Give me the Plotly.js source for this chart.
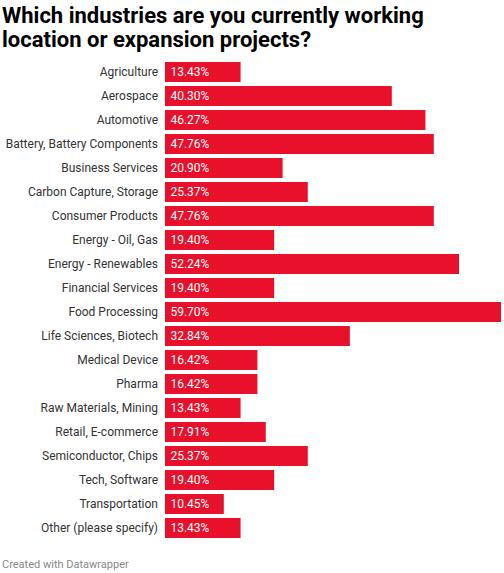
<!DOCTYPE html>
<html>
<head>
<meta charset="utf-8">
<script src="https://cdn.plot.ly/plotly-3.0.1.min.js"></script>
<style>
  html, body { margin: 0; padding: 0; background: #fff; }
  #chart { width: 504px; height: 573px; }
</style>
</head>
<body>
<div id="chart"></div>
<script>
const industries = [
  'Agriculture', 'Aerospace', 'Automotive', 'Battery, Battery Components',
  'Business Services', 'Carbon Capture, Storage', 'Consumer Products',
  'Energy - Oil, Gas', 'Energy - Renewables', 'Financial Services',
  'Food Processing', 'Life Sciences, Biotech', 'Medical Device', 'Pharma',
  'Raw Materials, Mining', 'Retail, E-commerce', 'Semiconductor, Chips',
  'Tech, Software', 'Transportation', 'Other (please specify)'
];
const shares = [
  13.43, 40.30, 46.27, 47.76, 20.90, 25.37, 47.76, 19.40, 52.24, 19.40,
  59.70, 32.84, 16.42, 16.42, 13.43, 17.91, 25.37, 19.40, 10.45, 13.43
];
const titleLines = [
  'Which industries are you currently working',
  'location or expansion projects?'
];

const font = 'Roboto, "Liberation Sans", sans-serif';

const trace = {
  type: 'bar',
  orientation: 'h',
  y: industries,
  x: shares,
  marker: { color: '#e8102a' },
  text: shares.map(v => '\u2009' + v.toFixed(2) + '%'),
  textposition: 'inside',
  insidetextanchor: 'start',
  textfont: { color: '#ffffff', size: 12, family: font },
  constraintext: 'none',
  hoverinfo: 'none',
  cliponaxis: false
};

// title lines placed separately to get the tight line spacing
const titleAnns = titleLines.map((line, i) => ({
  text: line,
  xref: 'paper', yref: 'paper',
  x: -165 / 336, y: 1 + (60 - 15 - i * 24) / 480,
  xanchor: 'left', yanchor: 'middle',
  showarrow: false,
  font: { family: font, size: 22, color: '#000', weight: 'bold' }
}));

const layout = {
  width: 504,
  height: 573,
  margin: { l: 165, r: 3, t: 60, b: 33 },
  paper_bgcolor: '#fff',
  plot_bgcolor: '#fff',
  showlegend: false,
  bargap: 0.167,
  font: { family: font, color: '#333', size: 12 },
  xaxis: {
    range: [0, 59.70],
    visible: false,
    fixedrange: true
  },
  yaxis: {
    autorange: 'reversed',
    showgrid: false,
    zeroline: false,
    showline: false,
    ticks: '',
    ticklabelstandoff: 6,
    tickfont: { size: 12, color: '#333', family: font },
    fixedrange: true
  },
  annotations: titleAnns.concat([
    {
      text: 'Created with Datawrapper',
      xref: 'paper', yref: 'paper',
      x: -165 / 336, y: -16 / 480,
      xanchor: 'left', yanchor: 'top',
      showarrow: false,
      font: { family: font, size: 11, color: '#888' }
    }
  ])
};

Plotly.newPlot('chart', [trace], layout, { displayModeBar: false, staticPlot: true });
</script>
</body>
</html>
